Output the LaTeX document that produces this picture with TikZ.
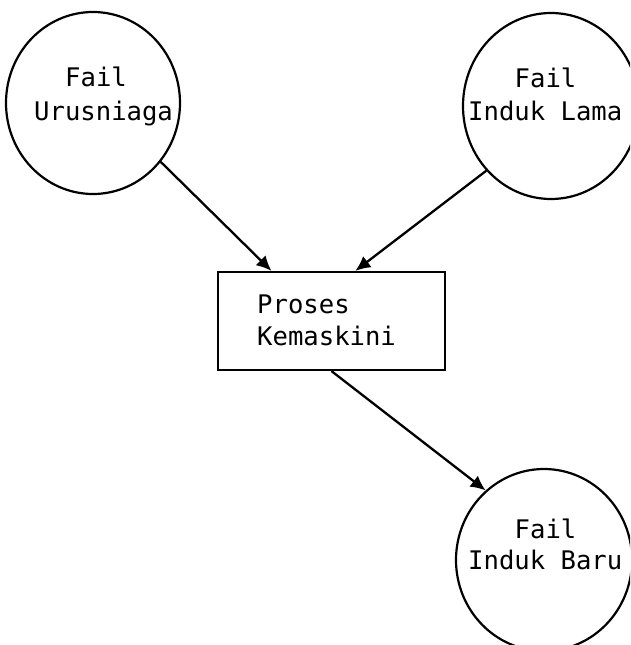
\documentclass[tikz,border=0pt]{standalone}
\usepackage{fontspec}
\newfontfamily\dfdfont{DejaVu Sans Mono}
\usetikzlibrary{shapes.geometric,arrows.meta,calc}
\tikzset{
  store/.style={ellipse,draw=black,line width=2.2pt,inner sep=0pt},
  procbox/.style={rectangle,draw=black,line width=2.2pt,inner sep=0pt,minimum width=227pt,minimum height=98pt},
  lbl/.style={anchor=base west,inner sep=0pt,font=\dfdfont\fontsize{25.6}{31}\selectfont},
  flow/.style={line width=2.3pt,-{Latex[length=15pt,width=14pt]}}
}
\begin{document}
\begin{tikzpicture}[x=1pt,y=-1pt]
\useasboundingbox (0,0) rectangle (630,645);
\clip (0,0) rectangle (630,645);
% stores
\node[store,minimum width=174pt,minimum height=182pt] (L) at (93,103) {};
\node[store,minimum width=176pt,minimum height=186pt] (R) at (551,106) {};
\node[store,minimum width=176pt,minimum height=182pt] (B) at (544,560) {};
% process
\node[procbox] (P) at (331.5,321) {};
% labels
\node[lbl] (L1) at (65,86) {Fail};
\node[lbl] (L2) at (34,120) {Urusniaga};
\node[lbl] (R1) at (514.5,87) {Fail};
\node[lbl] (R2) at (468,120) {Induk Lama};
\node[lbl] (P1) at (257,313) {Proses};
\node[lbl] (P2) at (257,345) {Kemaskini};
\node[lbl] (B1) at (514.5,538) {Fail};
\node[lbl] (B2) at (468,569) {Induk Baru};
% connectors
\coordinate (pinL) at ($(P.north west)!0.238!(P.north east)$);
\coordinate (pinR) at ($(P.north west)!0.604!(P.north east)$);
\draw[flow] (L.-41) -- (pinL);
\draw[flow] (R.-135) -- (pinR);
\draw[flow] (P.south) -- (B.130);
\end{tikzpicture}
\end{document}
